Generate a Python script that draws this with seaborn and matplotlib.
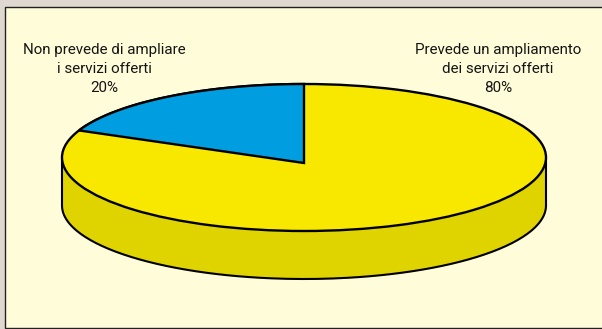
import numpy as np
import matplotlib
matplotlib.use("Agg")
import matplotlib.pyplot as plt
import seaborn as sns

labels = ["Non prevede di ampliare\ni servizi offerti\n20%", "Prevede un ampliamento\ndei servizi offerti\n80%"]
values = [20, 80]
colors = ["#009ee0", "#f8e800"]
side_color = "#e0d400"
panel_color = "#fffcd9"
outer_color = "#ded8d0"

sns.set_theme(style="white")
plt.rcParams["font.family"] = ["Roboto", "Liberation Sans", "DejaVu Sans"]

W, H = 602, 329
fig = plt.figure(figsize=(W / 100, H / 100), dpi=100, facecolor=outer_color)
bg = fig.add_axes([0, 0, 1, 1])
bg.set_xlim(0, W)
bg.set_ylim(H, 0)
bg.axis("off")
bg.add_patch(plt.Rectangle((4.5, 7), W + 10, 320.5, fc=panel_color, ec="#222222", lw=1.0))

cx, cy, rx, ry, depth = 304, 157.5, 242, 73.5, 48
apex_drop = 5.5 / ry      # the tilted drawing puts the apex below the ellipse centre
foreshorten = 0.95        # and narrows the angle of the slice slightly

# side of the disc
t = np.linspace(np.pi, 2 * np.pi, 200)
x = cx + rx * np.cos(t)
y = cy - ry * np.sin(t)
bg.fill_between(x, y, y + depth, color=side_color, lw=0, zorder=2)
bg.plot(x, y + depth, color="black", lw=1.5, zorder=3)
bg.plot([cx - rx, cx - rx], [cy, cy + depth], color="black", lw=1.5, zorder=3)
bg.plot([cx + rx, cx + rx], [cy, cy + depth], color="black", lw=1.5, zorder=3)

# top of the disc
ax = fig.add_axes([(cx - rx) / W, 1 - (cy + ry) / H, 2 * rx / W, 2 * ry / H], zorder=5)
ax.patch.set_alpha(0)
wedges, _ = ax.pie(values, colors=colors, startangle=90, radius=1.0,
                   wedgeprops=dict(edgecolor="black", linewidth=1.7, clip_on=False))
ax.set_aspect("auto")
ax.set_xlim(-1, 1)
ax.set_ylim(-1, 1)

# base ellipse in yellow, blue slice redrawn with the lowered apex
wedges[0].set_visible(False)
wedges[1].set_theta1(90)
wedges[1].set_theta2(450)
a = np.deg2rad(90 + np.linspace(0, values[0] / sum(values) * 360 * foreshorten, 80))
px = np.r_[0, np.cos(a)]
py = np.r_[-apex_drop, np.sin(a)]
ax.fill(px, py, facecolor=colors[0], edgecolor="black", linewidth=1.7, clip_on=False,
        joinstyle="miter", zorder=wedges[1].get_zorder() + 1)

bg.text(104, 69, labels[0], ha="center", va="center", fontsize=10.9, color="#151515", linespacing=1.45)
bg.text(498, 69, labels[1], ha="center", va="center", fontsize=10.9, color="#151515", linespacing=1.45)

fig.savefig("out.png", dpi=100, facecolor=outer_color)
